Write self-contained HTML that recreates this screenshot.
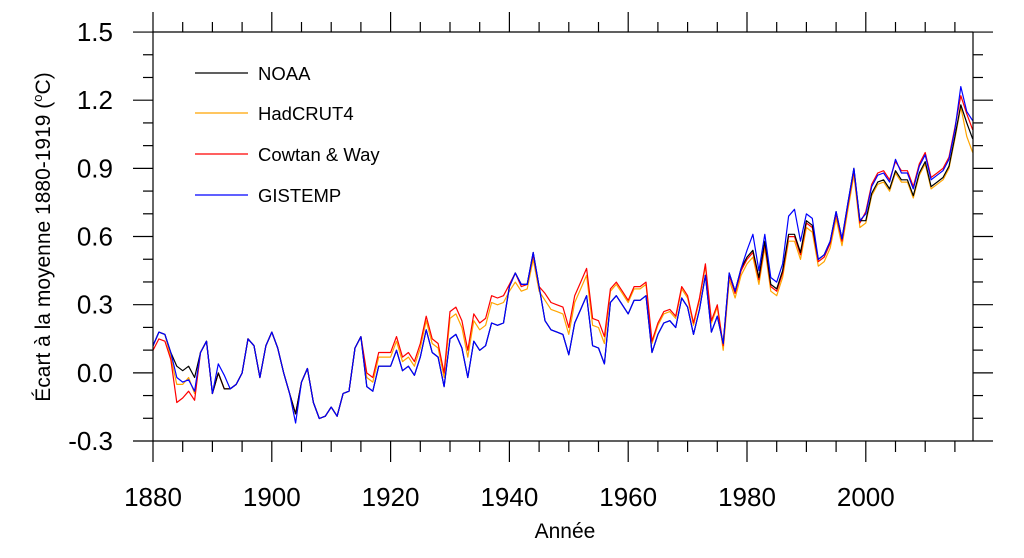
<!DOCTYPE html>
<html><head><meta charset="utf-8"><style>
html,body{margin:0;padding:0;background:#fff;}
svg{display:block;font-family:"Liberation Sans",sans-serif;}
</style></head><body>
<svg id="s" width="1024" height="558" viewBox="0 0 1024 558" xmlns="http://www.w3.org/2000/svg">
<rect width="1024" height="558" fill="#fff"/>
<g id="series" fill="none" stroke-width="1.2" stroke-linejoin="round"></g>
<g id="axes" stroke="#000" stroke-width="1.2" fill="none"></g>
<g id="labels" font-size="26" fill="#000"></g>
<text x="565" y="538" font-size="21" text-anchor="middle">Année</text>
<text transform="translate(50,237) rotate(-90)" font-size="21" text-anchor="middle">Écart à la moyenne 1880-1919 (<tspan font-size="13" dy="-8">o</tspan><tspan dy="8">C)</tspan></text>
<g font-size="18.5">
<line x1="195" y1="73" x2="248" y2="73" stroke="#000" stroke-width="1.2"/><text x="258" y="80">NOAA</text>
<line x1="195" y1="113" x2="248" y2="113" stroke="#FFA500" stroke-width="1.2"/><text x="258" y="120">HadCRUT4</text>
<line x1="195" y1="154" x2="248" y2="154" stroke="#FF0000" stroke-width="1.2"/><text x="258" y="161">Cowtan &amp; Way</text>
<line x1="195" y1="195" x2="248" y2="195" stroke="#0000FF" stroke-width="1.2"/><text x="258" y="202">GISTEMP</text>
</g>
</svg>
<script>
var N=[0.12,0.18,0.17,0.09,0.03,0.01,0.03,-0.02,0.09,0.14,-0.09,0.0,-0.07,-0.07,-0.05,0.0,0.15,0.12,-0.02,0.12,
0.18,0.11,0.0,-0.09,-0.18,-0.04,0.02,-0.13,-0.20,-0.19,-0.15,-0.19,-0.09,-0.08,0.11,0.16,-0.06,-0.08,0.03,0.03,
0.03,0.10,0.01,0.03,-0.01,0.07,0.19,0.09,0.07,-0.06,0.15,0.17,0.11,-0.02,0.14,0.10,0.12,0.22,0.21,0.22,
0.38,0.44,0.39,0.39,0.53,0.38,0.23,0.19,0.18,0.17,0.08,0.22,0.28,0.34,0.12,0.11,0.04,0.31,0.34,0.30,
0.26,0.32,0.32,0.34,0.09,0.17,0.22,0.23,0.20,0.33,0.29,0.17,0.28,0.43,0.18,0.25,0.13,0.44,0.36,0.46,
0.51,0.54,0.42,0.58,0.39,0.37,0.45,0.61,0.61,0.53,0.67,0.65,0.50,0.52,0.58,0.71,0.59,0.75,0.90,0.67,
0.67,0.79,0.84,0.85,0.81,0.89,0.85,0.85,0.78,0.88,0.93,0.82,0.84,0.86,0.91,1.04,1.18,1.10,1.03];
function off(t,y){
 if(t=='r'){
  var e={1880:-0.02,1881:-0.03,1882:-0.03,1883:-0.03,1884:-0.16,1885:-0.12,1886:-0.11,1887:-0.10,1940:0.01,1941:0.0,1942:-0.01,1943:0.0,1944:-0.01,1945:0.0};
  if(y in e) return e[y];
  if(y<1916) return 0.0;
  if(y<1930) return 0.06;
  if(y<1940) return 0.12;
  if(y<1957) return 0.12;
  if(y<1964) return 0.06;
  if(y<1976) return 0.05;
  if(y<2000) return -0.01;
  return 0.04;
 }
 if(t=='o'){
  var e={1883:-0.02,1884:-0.08,1885:-0.06,1886:-0.05,1887:-0.07,1940:-0.02,1941:-0.04,1942:-0.03,1943:-0.02,1944:-0.03,1945:-0.02};
  if(y in e) return e[y];
  if(y<1916) return 0.0;
  if(y<1930) return 0.04;
  if(y<1940) return 0.09;
  if(y<1957) return 0.09;
  if(y<1964) return 0.05;
  if(y<1976) return 0.04;
  if(y<2000) return -0.03;
  if(y>=2017) return -0.06;
  return -0.01;
 }
 if(t=='b'){
  var e={1884:-0.05,1885:-0.05,1886:-0.06,1887:-0.06,1891:0.04,1892:0.06,1904:-0.04,1981:0.07,1987:0.08,1988:0.11,1989:0.05,2005:0.05,2016:0.08,2017:0.05,2018:0.08};
  if(y in e) return e[y];
  if(y>=1980&&y<1992) return 0.03;
  if(y>=2000) return 0.03;
  return 0.0;
 }
 return 0;
}
var cols={n:'#000',o:'#FFA500',r:'#FF0000',b:'#0000FF'};
var g=document.getElementById('series'),ns='http://www.w3.org/2000/svg';
['o','r','n','b'].forEach(function(t){
 var pts=[];
 for(var i=0;i<N.length;i++){var y=1880+i;var v=N[i]+off(t,y);
  pts.push((153+i*5.94).toFixed(1)+','+(373-v*227.3).toFixed(1));}
 var p=document.createElementNS(ns,'polyline');
 p.setAttribute('points',pts.join(' '));p.setAttribute('stroke',cols[t]);g.appendChild(p);
});
var a=document.getElementById('axes'),L=document.getElementById('labels');
function ln(x1,y1,x2,y2){var l=document.createElementNS(ns,'line');l.setAttribute('x1',x1);l.setAttribute('y1',y1);l.setAttribute('x2',x2);l.setAttribute('y2',y2);a.appendChild(l);}
function tx(x,y,s,anc){var t=document.createElementNS(ns,'text');t.setAttribute('x',x);t.setAttribute('y',y);t.setAttribute('text-anchor',anc);t.textContent=s;L.appendChild(t);}
ln(153,32,973,32);ln(153,441,973,441);ln(153,32,153,441);ln(973,32,973,441);
for(var yr=1880;yr<=2015;yr+=5){var x=153+(yr-1880)*5.94;var maj=(yr%20==0);
 ln(x,441,x,maj?462:452);ln(x,32,x,maj?12:22);
 if(maj)tx(x,506,String(yr),'middle');}
for(var k=0;k<=18;k++){var v=-0.3+k*0.1;var y=441-k*22.72;var maj=(k%3==0);
 ln(153,y,maj?133:143,y);ln(973,y,maj?993:983,y);
 if(maj){var s=v.toFixed(1);if(Math.abs(v)<1e-6)s='0.0';tx(113,y+9,s,'end');}}
</script>
</body></html>
